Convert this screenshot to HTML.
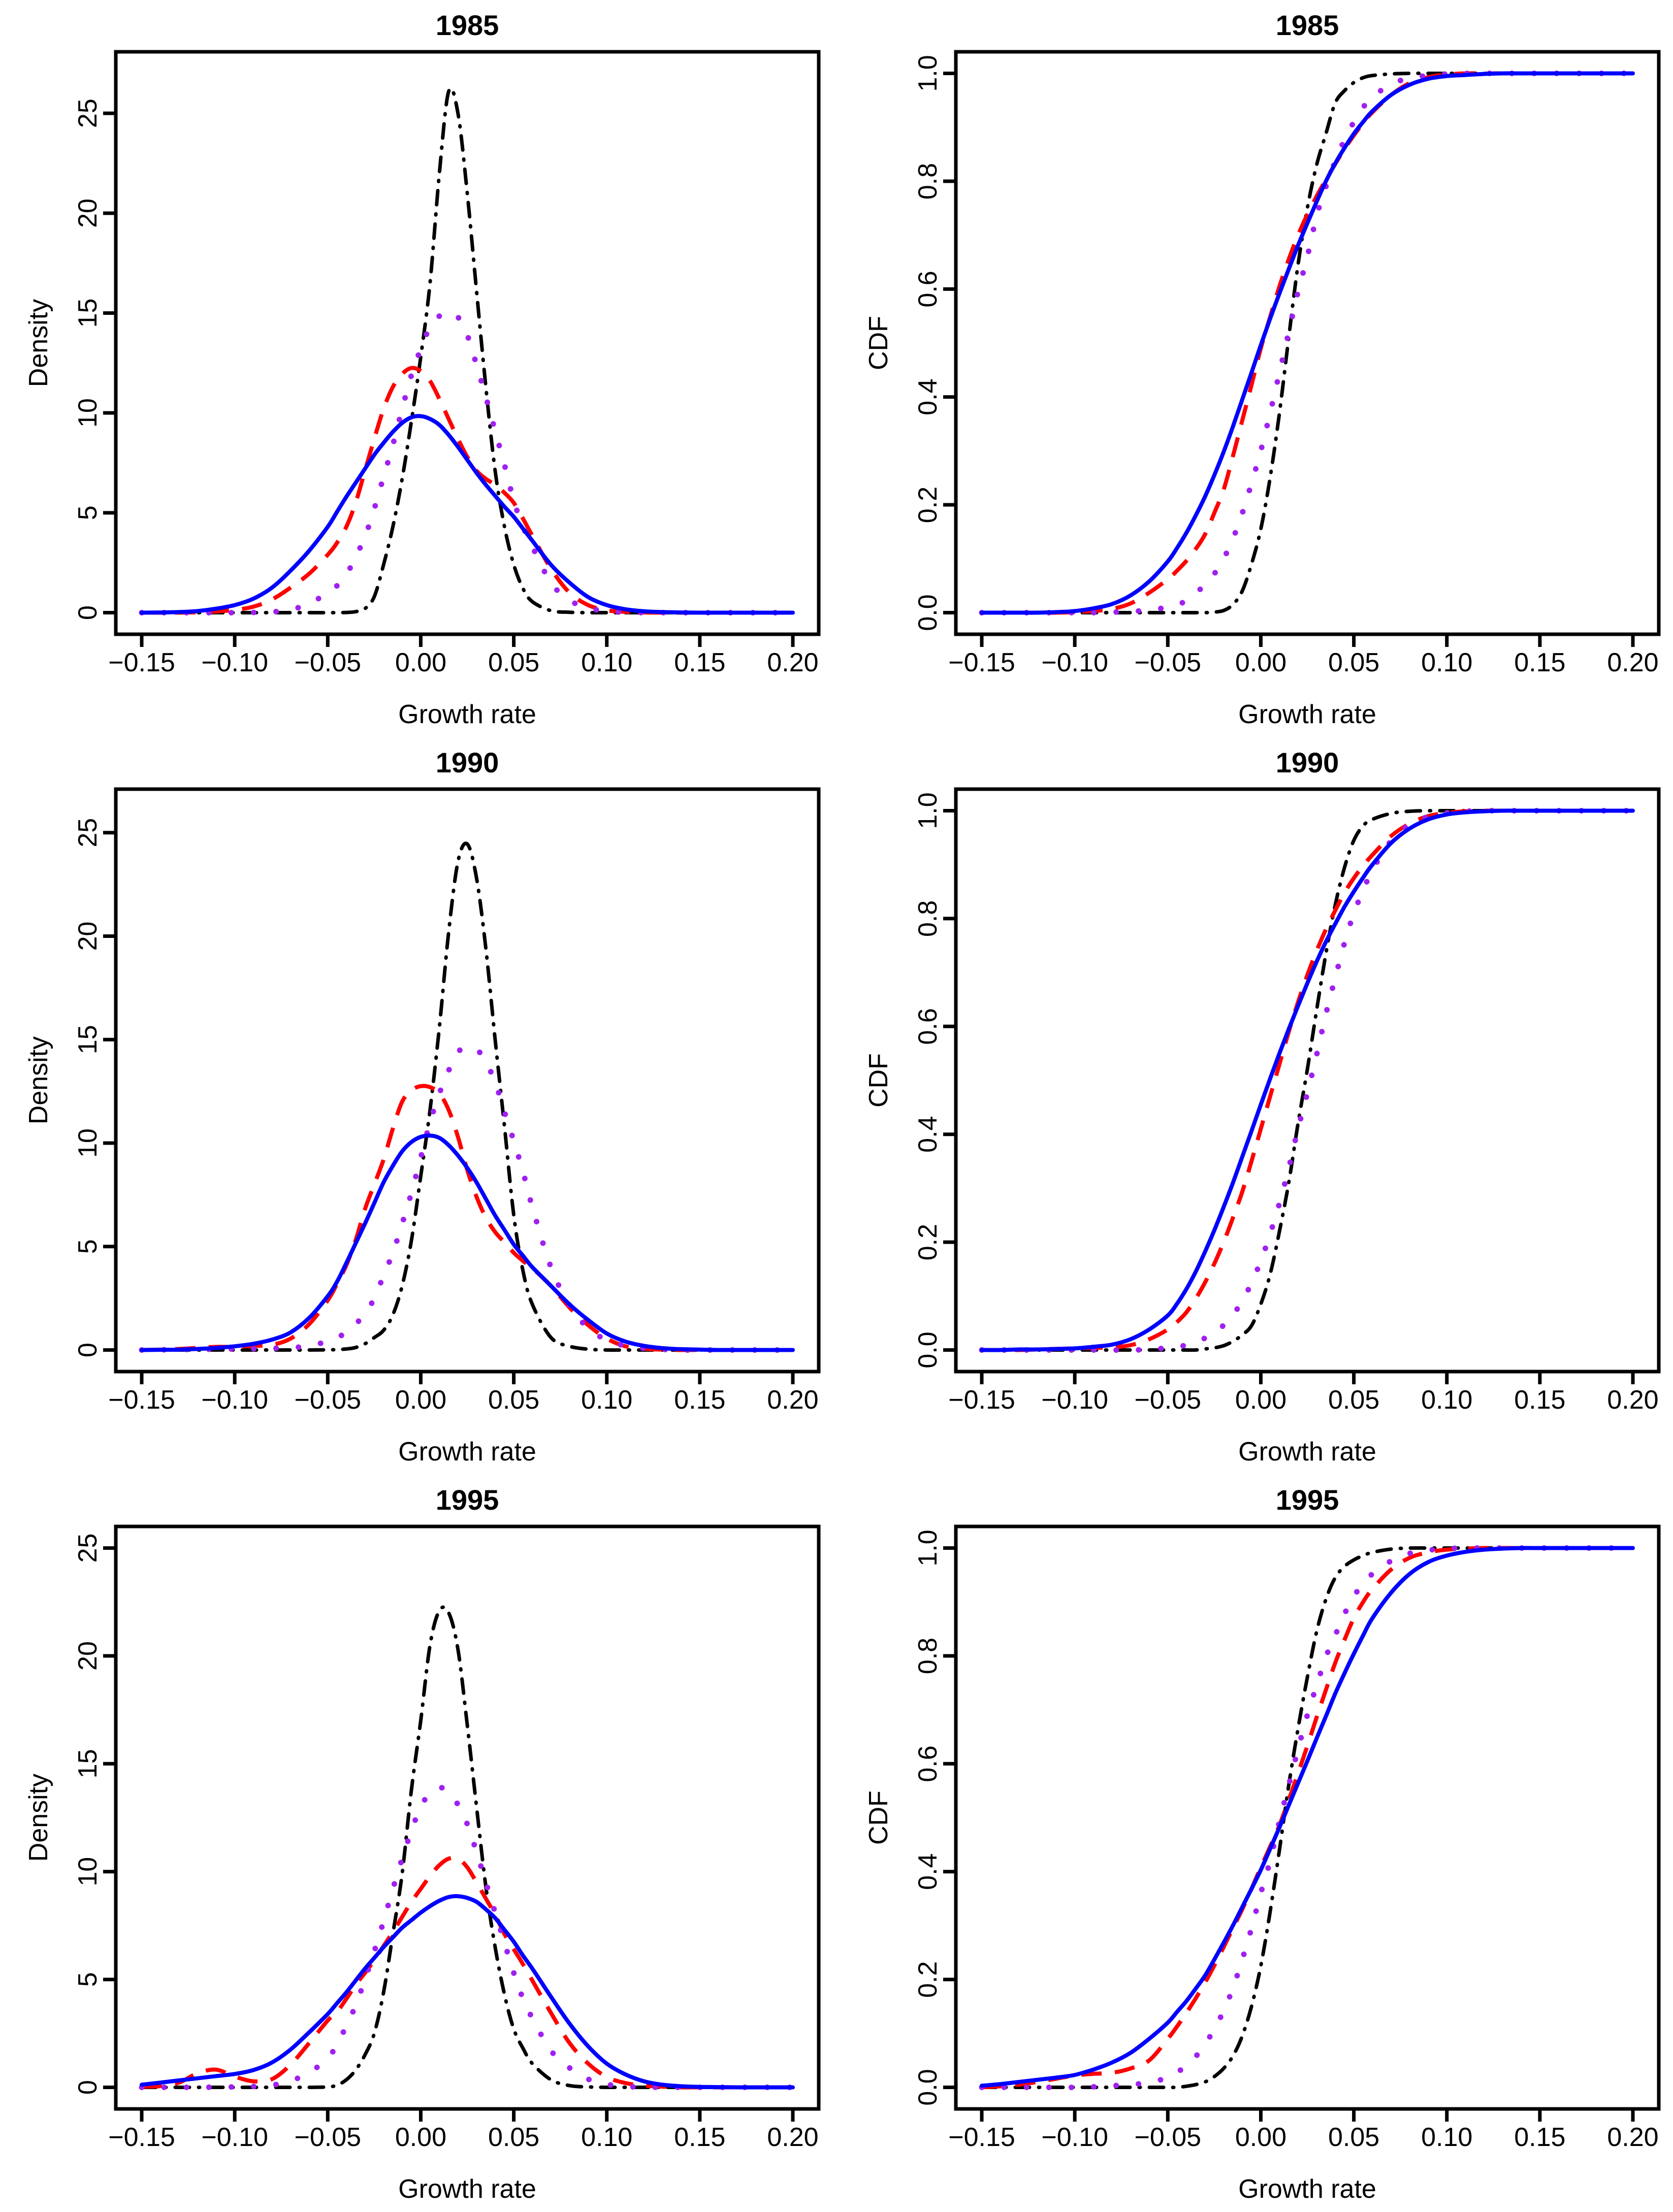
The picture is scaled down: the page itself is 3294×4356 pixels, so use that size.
<!DOCTYPE html>
<html><head><meta charset="utf-8"><style>
html,body{margin:0;padding:0;background:#fff;}
svg{display:block;}
text{font-family:"Liberation Sans",Arial,sans-serif;fill:#000;}
</style></head>
<body>
<svg id="fig" xmlns="http://www.w3.org/2000/svg" width="3294" height="4356" viewBox="0 0 3294 4356"></svg>
<script>
// ---- shared x grid (growth rate) ----
const xGrid = [-0.15,-0.14,-0.13,-0.12,-0.11,-0.10,-0.09,-0.08,-0.07,-0.06,-0.05,
 -0.045,-0.04,-0.035,-0.03,-0.025,-0.02,-0.015,-0.01,-0.005,0,0.005,0.01,0.015,0.02,0.025,0.03,0.035,0.04,0.045,0.05,0.055,
 0.06,0.07,0.08,0.09,0.10,0.11,0.12,0.13,0.14,0.15,0.16,0.17,0.18,0.19,0.20];
const years = ["1985","1990","1995"];
const xTicks = [-0.15,-0.10,-0.05,0.00,0.05,0.10,0.15,0.20];
const xTickLabels = ["\u22120.15","\u22120.10","\u22120.05","0.00","0.05","0.10","0.15","0.20"];
const densTicks = [0,5,10,15,20,25];
const densTickLabels = ["0","5","10","15","20","25"];
const cdfTicks = [0,0.2,0.4,0.6,0.8,1.0];
const cdfTickLabels = ["0.0","0.2","0.4","0.6","0.8","1.0"];
const densYMax = [27.0, 26.06, 25.0];

// ---- 1985 density ----
const d85Blue = [0,0.01,0.03,0.08,0.2,0.38,0.7,1.25,2.1,3.1,4.3, 5.05,5.8,6.5,7.2,7.9,8.5,9.05,9.5,9.78,9.84,9.7,9.4,8.9,8.3,7.65,7.0,6.4,5.85,5.3,4.8,4.2, 3.6,2.4,1.5,0.78,0.38,0.17,0.07,0.03,0.01,0,0,0,0,0,0];
const d85Red = [0,0,0,0.02,0.06,0.14,0.3,0.66,1.25,1.95,2.9, 3.5,4.3,5.5,7.1,8.7,10.2,11.3,11.95,12.25,12.1,11.6,10.7,9.7,8.7,7.8,7.1,6.7,6.4,6.0,5.5,4.7, 3.85,2.2,1.0,0.38,0.12,0.04,0.01,0,0,0,0,0,0,0,0];
const d85Purple = [0,0,0,0,0,0,0.01,0.04,0.15,0.45,1.0, 1.35,1.9,2.8,3.8,5.2,6.8,8.4,10.2,11.9,13.2,14.3,14.85,15.05,14.8,13.9,12.4,10.8,9.1,7.4,5.6,4.3, 3.3,1.5,0.62,0.24,0.07,0.02,0,0,0,0,0,0,0,0,0];
const d85Black = [0,0,0,0,0,0,0,0,0,0,0, 0,0.01,0.05,0.2,0.8,2.4,4.3,6.7,9.6,12.8,16.5,22.0,26.1,25.0,21.0,16.1,11.3,7.1,4.3,2.4,1.2, 0.55,0.1,0.02,0,0,0,0,0,0,0,0,0,0,0,0];
// ---- 1990 density ----
const d90Blue = [0,0.01,0.02,0.05,0.1,0.18,0.3,0.5,0.85,1.55,2.6, 3.3,4.2,5.15,6.1,7.1,8.1,8.9,9.6,10.05,10.3,10.36,10.25,9.9,9.4,8.8,8.1,7.3,6.5,5.8,5.1,4.55, 4.0,3.1,2.2,1.45,0.8,0.41,0.2,0.09,0.04,0.02,0,0,0,0,0];
const d90Red = [0,0.02,0.05,0.1,0.15,0.15,0.2,0.25,0.55,1.25,2.4, 3.2,4.1,5.3,6.8,8.0,9.2,10.7,12.0,12.55,12.75,12.7,12.4,11.6,10.3,8.7,7.4,6.4,5.7,5.2,4.7,4.3, 3.95,3.1,2.05,1.2,0.55,0.18,0.06,0.02,0,0,0,0,0,0,0];
const d90Purple = [0,0.01,0.02,0.03,0.04,0.05,0.06,0.08,0.11,0.2,0.42, 0.6,0.85,1.25,1.75,2.5,3.6,4.7,6.1,7.6,9.3,11.0,12.4,13.5,14.4,14.6,14.55,13.9,12.95,11.5,10.1,8.6, 6.9,4.0,2.15,1.05,0.48,0.2,0.08,0.03,0,0,0,0,0,0,0];
const d90Black = [0,0,0,0,0,0,0,0,0,0,0.01, 0.02,0.05,0.12,0.3,0.6,0.95,1.7,3.1,5.3,8.4,11.6,15.6,20.2,23.6,24.45,22.8,19.4,15.0,10.8,6.5,3.8, 2.2,0.6,0.18,0.04,0,0,0,0,0,0,0,0,0,0,0];
// ---- 1995 density ----
const d95Blue = [0.12,0.22,0.32,0.42,0.52,0.62,0.8,1.15,1.75,2.55,3.4, 3.9,4.4,4.95,5.5,6.0,6.5,6.95,7.4,7.75,8.1,8.4,8.65,8.82,8.86,8.78,8.6,8.25,7.85,7.3,6.75,6.1, 5.5,4.2,2.95,1.9,1.1,0.6,0.28,0.12,0.05,0.02,0.01,0,0,0,0];
const d95Red = [0.03,0.06,0.22,0.65,0.82,0.5,0.28,0.38,1.05,2.05,3.1, 3.5,4.1,4.75,5.3,5.9,6.55,7.2,7.9,8.6,9.2,9.8,10.3,10.6,10.6,10.2,9.5,8.75,8.0,7.1,6.4,5.7, 4.95,3.45,2.05,1.1,0.48,0.2,0.08,0.03,0,0,0,0,0,0,0];
const d95Purple = [0,0,0,0,0.01,0.02,0.04,0.1,0.3,0.68,1.35, 2.0,2.85,3.8,5.0,6.3,7.7,9.2,10.6,11.9,13.0,13.65,13.9,13.7,13.1,12.2,10.9,9.5,8.1,6.7,5.3,4.1, 3.2,1.7,0.9,0.38,0.14,0.04,0.01,0,0,0,0,0,0,0,0];
const d95Black = [0,0,0,0,0,0,0,0,0,0,0.02, 0.1,0.35,0.8,1.5,2.5,4.4,7.1,9.9,13.8,17.0,20.5,22.1,22.0,20.3,16.8,13.0,9.3,6.5,4.3,2.7,1.8, 1.1,0.35,0.08,0.02,0,0,0,0,0,0,0,0,0,0,0];

// ---- 1985 CDF ----
const c85Blue = [0,0,0,0,0.001,0.003,0.008,0.016,0.032,0.058,0.095, 0.12,0.148,0.18,0.215,0.255,0.298,0.345,0.395,0.445,0.496,0.545,0.592,0.637,0.681,0.722,0.762,0.8,0.833,0.862,0.888,0.91, 0.93,0.96,0.979,0.99,0.995,0.997,0.999,1,1,1,1,1,1,1,1];
const c85Red = [0,0,0,0,0,0.001,0.003,0.007,0.017,0.037,0.062, 0.078,0.096,0.118,0.145,0.185,0.228,0.29,0.356,0.422,0.49,0.548,0.605,0.655,0.7,0.738,0.772,0.803,0.832,0.86,0.885,0.908, 0.928,0.96,0.982,0.993,0.998,1,1,1,1,1,1,1,1,1,1];
const c85Purple = [0,0,0,0,0,0,0,0.001,0.002,0.005,0.01, 0.015,0.022,0.036,0.052,0.072,0.1,0.137,0.184,0.24,0.30,0.37,0.445,0.52,0.595,0.66,0.735,0.79,0.837,0.877,0.91,0.937, 0.956,0.98,0.991,0.996,0.999,1,1,1,1,1,1,1,1,1,1];
const c85Black = [0,0,0,0,0,0,0,0,0,0,0, 0,0,0,0,0.001,0.004,0.015,0.04,0.09,0.155,0.25,0.37,0.51,0.645,0.75,0.83,0.888,0.945,0.968,0.983,0.992, 0.996,0.999,1,1,1,1,1,1,1,1,1,1,1,1,1];
// ---- 1990 CDF ----
const c90Blue = [0,0,0.001,0.001,0.002,0.003,0.006,0.01,0.02,0.038,0.064, 0.086,0.113,0.145,0.182,0.222,0.265,0.31,0.358,0.406,0.455,0.503,0.55,0.595,0.638,0.68,0.72,0.757,0.79,0.822,0.85,0.876, 0.9,0.94,0.967,0.984,0.993,0.997,0.999,1,1,1,1,1,1,1,1];
const c90Red = [0,0,0,0.001,0.002,0.003,0.004,0.005,0.009,0.02,0.038, 0.052,0.07,0.095,0.125,0.16,0.2,0.245,0.293,0.35,0.41,0.47,0.53,0.59,0.645,0.695,0.74,0.78,0.815,0.848,0.875,0.898, 0.918,0.953,0.976,0.99,0.996,0.999,1,1,1,1,1,1,1,1,1];
const c90Purple = [0,0,0,0,0,0,0,0,0,0.001,0.004, 0.006,0.009,0.014,0.022,0.031,0.046,0.066,0.09,0.125,0.165,0.215,0.272,0.337,0.41,0.476,0.547,0.623,0.69,0.755,0.81,0.852, 0.89,0.944,0.974,0.989,0.996,0.999,1,1,1,1,1,1,1,1,1];
const c90Black = [0,0,0,0,0,0,0,0,0,0,0, 0,0,0,0.002,0.004,0.008,0.016,0.028,0.045,0.085,0.14,0.22,0.31,0.42,0.52,0.63,0.735,0.825,0.895,0.945,0.972, 0.984,0.995,0.999,1,1,1,1,1,1,1,1,1,1,1,1];
// ---- 1995 CDF ----
const c95Blue = [0.003,0.006,0.01,0.014,0.018,0.023,0.033,0.046,0.064,0.09,0.12, 0.14,0.16,0.183,0.207,0.237,0.268,0.3,0.334,0.368,0.403,0.442,0.482,0.523,0.564,0.605,0.647,0.688,0.73,0.768,0.804,0.838, 0.87,0.917,0.952,0.974,0.986,0.993,0.997,0.999,1,1,1,1,1,1,1];
const c95Red = [0,0.002,0.005,0.01,0.016,0.022,0.025,0.027,0.035,0.05,0.09, 0.113,0.138,0.165,0.194,0.226,0.26,0.295,0.33,0.368,0.408,0.446,0.486,0.533,0.582,0.633,0.686,0.737,0.787,0.83,0.87,0.9, 0.924,0.96,0.982,0.992,0.997,0.999,1,1,1,1,1,1,1,1,1];
const c95Purple = [0,0,0,0,0,0,0.001,0.003,0.005,0.009,0.018, 0.028,0.04,0.057,0.08,0.108,0.142,0.184,0.237,0.295,0.36,0.42,0.493,0.56,0.627,0.69,0.745,0.798,0.838,0.878,0.91,0.935, 0.952,0.976,0.99,0.996,0.999,1,1,1,1,1,1,1,1,1,1];
const c95Black = [0,0,0,0,0,0,0,0,0,0,0, 0,0.002,0.005,0.01,0.02,0.035,0.058,0.095,0.15,0.225,0.325,0.44,0.56,0.665,0.76,0.845,0.905,0.945,0.966,0.978,0.986, 0.992,0.998,1,1,1,1,1,1,1,1,1,1,1,1,1];

const densSeries = [[d85Black,d85Red,d85Purple,d85Blue],[d90Black,d90Red,d90Purple,d90Blue],[d95Black,d95Red,d95Purple,d95Blue]];
const cdfSeries = [[c85Black,c85Red,c85Purple,c85Blue],[c90Black,c90Red,c90Purple,c90Blue],[c95Black,c95Red,c95Purple,c95Blue]];
const seriesNames = ["black-dotdash","red-dashed","purple-dotted","blue-solid"];

const NS = "http://www.w3.org/2000/svg";
const svg = document.getElementById("fig");
function mk(tag, attrs, parent){ const e=document.createElementNS(NS,tag); for(const k in attrs) e.setAttribute(k,attrs[k]); (parent||svg).appendChild(e); return e; }

const styles = [
  {stroke:"#000000", w:7, dash:"28 18 2 18", cap:"round"},
  {stroke:"#FF0000", w:8, dash:"40 26", cap:"butt"},
  {stroke:"#A020F0", w:11, dash:"0.1 44", cap:"round"},
  {stroke:"#0000FF", w:8, dash:"", cap:"round"}
];

function smoothPath(pts){
  let d = "M"+pts[0][0].toFixed(1)+","+pts[0][1].toFixed(1);
  for(let i=0;i<pts.length-1;i++){
    const p0=pts[Math.max(0,i-1)], p1=pts[i], p2=pts[i+1], p3=pts[Math.min(pts.length-1,i+2)];
    const c1x=p1[0]+(p2[0]-p0[0])/6, c1y=p1[1]+(p2[1]-p0[1])/6;
    const c2x=p2[0]-(p3[0]-p1[0])/6, c2y=p2[1]-(p3[1]-p1[1])/6;
    d += " C"+c1x.toFixed(1)+","+c1y.toFixed(1)+" "+c2x.toFixed(1)+","+c2y.toFixed(1)+" "+p2[0].toFixed(1)+","+p2[1].toFixed(1);
  }
  return d;
}

function panel(row, col){
  const ox = col===0 ? 228 : 1882;
  const oy = 102 + row*1452;
  const W = 1384, H = 1147;
  const isCdf = col===1;
  const ymax = isCdf ? 1.0 : densYMax[row];
  const xS = v => ox + 51 + (v + 0.15) / 0.35 * 1282;
  const yS = v => oy + H - 42.5 - v / ymax * 1062;
  const g = mk("g", {});
  
  

  const ser = isCdf ? cdfSeries[row] : densSeries[row];
  const clipId = "clip"+row+col;
  const cp = mk("clipPath",{id:clipId},g); mk("rect",{x:ox,y:oy,width:W,height:H},cp);
  ser.forEach((arr,si)=>{
    const pts = xGrid.map((x,i)=>[xS(x), yS(arr[i])]);
    const st = styles[si];
    const p = mk("path",{d:smoothPath(pts),fill:"none",stroke:st.stroke,"stroke-width":st.w,"stroke-linecap":st.cap,"stroke-linejoin":"round","clip-path":"url(#"+clipId+")"},g);
    if(st.dash) p.setAttribute("stroke-dasharray",st.dash);
    
    
  });

  const box = mk("rect",{x:ox,y:oy,width:W,height:H,fill:"none",stroke:"#000","stroke-width":7},g);
  
  

  const xa = mk("g",{},g);
  
  
  mk("line",{x1:xS(xTicks[0]),x2:xS(xTicks[xTicks.length-1]),y1:oy+H,y2:oy+H,stroke:"#000","stroke-width":7},xa);
  xTicks.forEach((t,i)=>{
    mk("line",{x1:xS(t),x2:xS(t),y1:oy+H,y2:oy+H+25,stroke:"#000","stroke-width":7},xa);
    const tx = mk("text",{x:xS(t),y:oy+H+73,"font-size":52,"text-anchor":"middle"},xa);
    tx.textContent = xTickLabels[i];
    
    
  });
  const ya = mk("g",{},g);
  
  
  const ticks = isCdf ? cdfTicks : densTicks;
  const labs = isCdf ? cdfTickLabels : densTickLabels;
  mk("line",{x1:ox,x2:ox,y1:yS(ticks[0]),y2:yS(ticks[ticks.length-1]),stroke:"#000","stroke-width":7},ya);
  ticks.forEach((t,i)=>{
    const y = yS(t);
    mk("line",{x1:ox-25,x2:ox,y1:y,y2:y,stroke:"#000","stroke-width":7},ya);
    const lx = ox-38;
    const tx = mk("text",{x:lx,y:y,"font-size":52,"text-anchor":"middle",transform:"rotate(-90 "+lx+" "+y+")"},ya);
    tx.textContent = labs[i];
    
    
  });
  const cx = ox + W/2;
  const title = mk("text",{x:cx,y:oy-33,"font-size":56,"font-weight":"bold","text-anchor":"middle"},g);
  title.textContent = years[row];
  
  
  const xt = mk("text",{x:cx,y:oy+H+175,"font-size":52,"text-anchor":"middle"},g);
  xt.textContent = "Growth rate";
  
  
  const yx = ox-135, yy = oy + H/2;
  const yt = mk("text",{x:yx,y:yy,"font-size":52,"text-anchor":"middle",transform:"rotate(-90 "+yx+" "+yy+")"},g);
  yt.textContent = isCdf ? "CDF" : "Density";
  
  
}
for(let r=0;r<3;r++){ panel(r,0); panel(r,1); }
</script>
</body></html>
